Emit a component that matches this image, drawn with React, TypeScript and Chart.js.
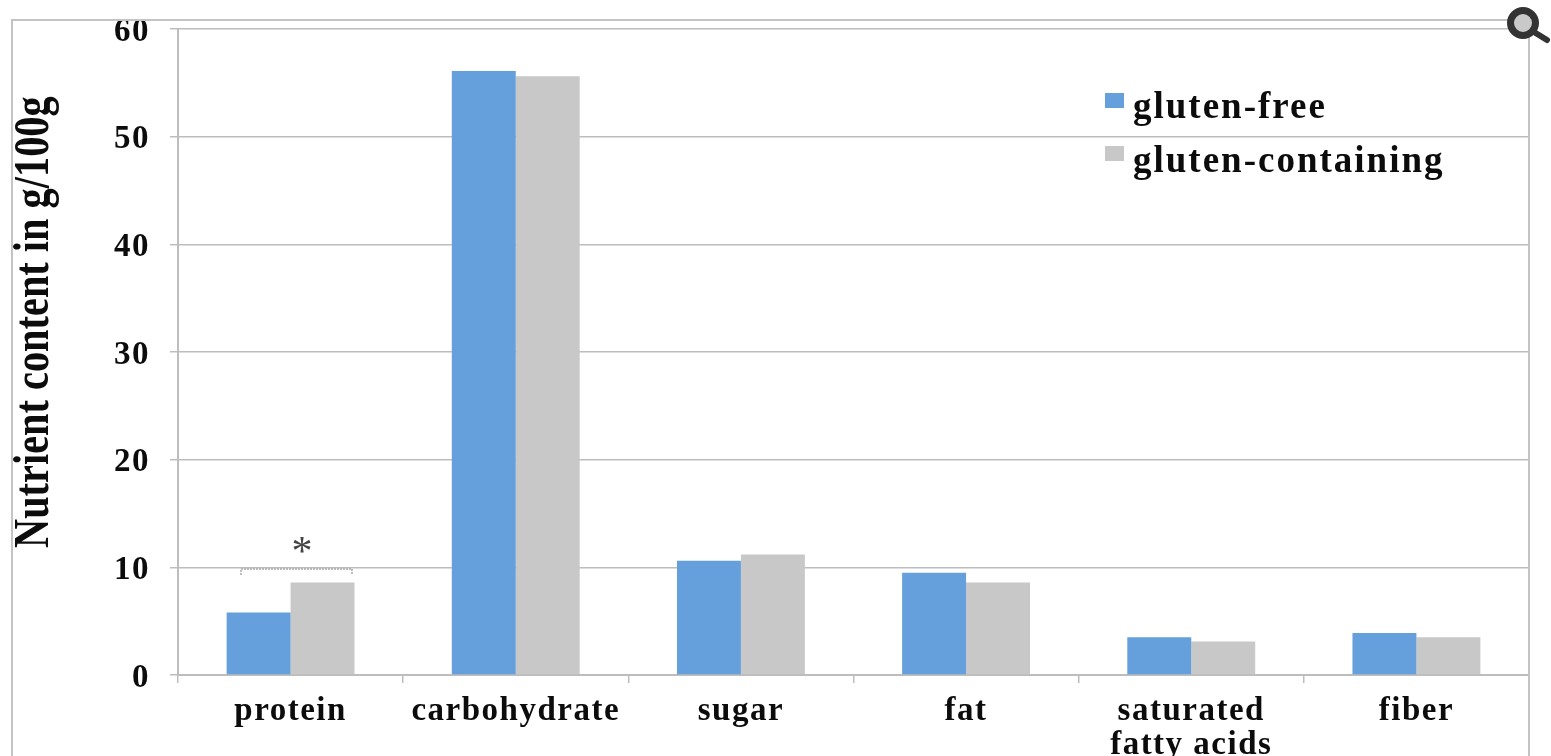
import React, { useEffect, useRef } from "react";
import { Chart, registerables } from "chart.js";

Chart.register(...registerables);

const categories = ["protein", "carbohydrate", "sugar", "fat", ["saturated", "fatty acids"], "fiber"];
const glutenFree = [5.8, 56.1, 10.6, 9.5, 3.5, 3.9];
const glutenContaining = [8.6, 55.6, 11.2, 8.6, 3.1, 3.5];
const seriesLabels = ["gluten-free", "gluten-containing"];
const seriesColors = ["#659fdc", "#c8c8c8"];
const yTitle = "Nutrient content in g/100g";
const SERIF = "'Liberation Serif', serif";
const LINE = "#bdbdbd";
const INK = "#0c0c0c";

const spacing = {
  id: "spacing",
  beforeLayout(c: any) { c.ctx.letterSpacing = "1.5px"; },
  beforeDraw(c: any) {
    c.ctx.letterSpacing = "1.5px";
    // the reference's y labels sit slightly below their grid lines
    c.scales.y.getLabelItems().forEach((item: any) => {
      item.options.translation = [item.options.translation[0], item.options.translation[1] + 3];
    });
  },
};

const decor = {
  id: "decor",
  afterDraw(c: any) {
    const { ctx, scales, chartArea } = c;
    ctx.save();
    // outer frame and right edge
    ctx.strokeStyle = "#c4c4c4";
    ctx.lineWidth = 2;
    ctx.beginPath();
    ctx.moveTo(12, 756);
    ctx.lineTo(12, 20);
    ctx.lineTo(chartArea.right, 20);
    ctx.lineTo(chartArea.right, 756);
    ctx.stroke();

    // y axis title, tall and condensed like the reference
    ctx.save();
    ctx.letterSpacing = "0px";
    ctx.translate(48, 548);
    ctx.rotate(-Math.PI / 2);
    ctx.scale(0.807, 1);
    ctx.fillStyle = INK;
    ctx.font = `bold 50px ${SERIF}`;
    ctx.textAlign = "left";
    ctx.textBaseline = "alphabetic";
    ctx.fillText(yTitle, 0, 0);
    ctx.restore();

    // significance bracket
    const by = scales.y.getPixelForValue(9.85);
    ctx.strokeStyle = "#a8a8a8";
    ctx.lineWidth = 1.5;
    ctx.setLineDash([2, 1]);
    ctx.beginPath();
    ctx.moveTo(241, by + 6);
    ctx.lineTo(241, by);
    ctx.lineTo(352, by);
    ctx.lineTo(352, by + 6);
    ctx.stroke();
    ctx.setLineDash([]);
    ctx.letterSpacing = "0px";
    ctx.fillStyle = "#444444";
    ctx.font = `42px ${SERIF}`;
    ctx.textAlign = "center";
    ctx.textBaseline = "alphabetic";
    ctx.fillText("*", 302, 565);

    // legend
    ctx.letterSpacing = "2px";
    ctx.font = `bold 37px ${SERIF}`;
    ctx.textAlign = "left";
    const rows = [
      { sy: 93, ty: 118 },
      { sy: 146, ty: 172 },
    ];
    rows.forEach((r, i) => {
      ctx.fillStyle = seriesColors[i];
      ctx.fillRect(1105, r.sy, 19, 15);
      ctx.fillStyle = INK;
      ctx.fillText(seriesLabels[i], 1133, r.ty);
    });

    // magnifier icon
    ctx.strokeStyle = "#333333";
    ctx.lineWidth = 7;
    ctx.fillStyle = "#c9c9c9";
    ctx.beginPath();
    ctx.arc(1523, 23, 12.5, 0, Math.PI * 2);
    ctx.fill();
    ctx.stroke();
    ctx.lineWidth = 6;
    ctx.lineCap = "round";
    ctx.beginPath();
    ctx.moveTo(1534, 32);
    ctx.lineTo(1547, 40);
    ctx.stroke();
    ctx.restore();
  },
};

export default function App() {
  const ref = useRef<HTMLCanvasElement>(null);
  useEffect(() => {
    document.body.style.margin = "0";
    document.body.style.background = "#ffffff";
    const chart = new Chart(ref.current!, {
      type: "bar",
      data: {
        labels: categories as any,
        datasets: [
          { label: seriesLabels[0], data: glutenFree, backgroundColor: seriesColors[0] },
          { label: seriesLabels[1], data: glutenContaining, backgroundColor: seriesColors[1] },
        ],
      },
      options: {
        animation: false,
        responsive: false,
        devicePixelRatio: 1,
        layout: { padding: { left: 0, top: 29, right: 22, bottom: 0 } },
        datasets: { bar: { categoryPercentage: 0.568, barPercentage: 1 } },
        plugins: { legend: { display: false }, tooltip: { enabled: false } },
        scales: {
          x: {
            grid: { drawOnChartArea: false, drawTicks: true, tickLength: 8, color: LINE, lineWidth: 1.5, offset: true },
            border: { color: LINE, width: 2 },
            ticks: {
              color: INK,
              autoSkip: false,
              maxRotation: 0,
              padding: 11,
              font: { family: SERIF, size: 33, weight: "bold", lineHeight: 1.03 },
            },
            afterFit(s: any) { s.height = 81; },
          },
          y: {
            min: 0,
            max: 60,
            grid: { color: LINE, lineWidth: 1.5, tickLength: 8 },
            border: { color: LINE, width: 2 },
            ticks: {
              stepSize: 10,
              color: INK,
              padding: 20,
              font: { family: SERIF, size: 33, weight: "bold" },
            },
            afterFit(s: any) { s.width = 178; s.paddingTop = 0; s.paddingBottom = 0; },
          },
        },
      } as any,
      plugins: [spacing, decor],
    });
    return () => chart.destroy();
  }, []);
  return <canvas ref={ref} width={1551} height={756} style={{ display: "block" }} />;
}
